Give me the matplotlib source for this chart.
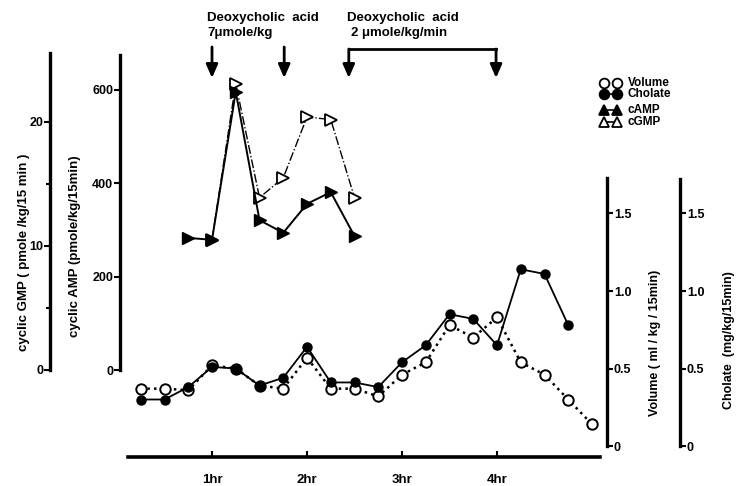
import matplotlib
matplotlib.use("Agg")
import matplotlib.pyplot as plt
from matplotlib.lines import Line2D

plt.rcParams['font.family'] = ['Liberation Sans', 'DejaVu Sans']
plt.rcParams['font.weight'] = 'bold'

# sampling times (hr), 15-min collections
t_flow = [0.25, 0.5, 0.75, 1.0, 1.25, 1.5, 1.75, 2.0, 2.25, 2.5,
          2.75, 3.0, 3.25, 3.5, 3.75, 4.0, 4.25, 4.5, 4.75, 5.0]
volume = [0.37, 0.37, 0.36, 0.52, 0.50, 0.39, 0.37, 0.57, 0.37, 0.37,
          0.32, 0.46, 0.54, 0.78, 0.70, 0.83, 0.54, 0.46, 0.30, 0.14]
cholate = [0.30, 0.30, 0.38, 0.51, 0.50, 0.39, 0.44, 0.64, 0.41, 0.41,
           0.38, 0.54, 0.65, 0.85, 0.82, 0.65, 1.14, 1.11, 0.78]

t_camp = [0.75, 1.0, 1.25, 1.5, 1.75, 2.0, 2.25, 2.5]
camp = [283, 279, 596, 321, 294, 356, 381, 287]

t_cgmp = [1.0, 1.25, 1.5, 1.75, 2.0, 2.25, 2.5]
cgmp = [10.5, 23.1, 13.9, 15.5, 20.4, 20.2, 13.9]

hr_ticks = [1, 2, 3, 4]
hr_labels = ['1hr', '2hr', '3hr', '4hr']

W, H = 740, 486
fig = plt.figure(figsize=(W / 100, H / 100), dpi=100)

# plotting box in pixels
L, R, T, B = 128, 600, 40, 457
rect = [L / W, 1 - B / H, (R - L) / W, (B - T) / H]
xlim = ((L - 117) / 95, (R - 117) / 95)

def frac(px):
    return (px - L) / (R - L)

def fy(py):
    return (B - py) / (B - T)

ax = fig.add_axes(rect)        # volume / cholate
ax_g = fig.add_axes(rect, sharex=ax)   # cyclic GMP
ax_a = fig.add_axes(rect, sharex=ax)   # cyclic AMP (drawn over cGMP)
ax_g.set_zorder(1)
ax_a.set_zorder(2)
for a in (ax, ax_a, ax_g):
    a.patch.set_visible(False)
    for s in a.spines.values():
        s.set_visible(False)
    a.tick_params(labelsize=9)

ax.set_xlim(*xlim)
ax.set_ylim((446 - B) / 155, (446 - T) / 155)
ax_a.set_ylim((370 - B) / 0.4667, (370 - T) / 0.4667)
ax_g.set_ylim((370 - B) / 12.4, (370 - T) / 12.4)

# bottom time axis
ax.spines['bottom'].set_visible(True)
ax.spines['bottom'].set_linewidth(2.6)
ax.set_xticks(hr_ticks)
ax.set_xticklabels(hr_labels, fontsize=9.5)
ax.tick_params(axis='x', direction='in', length=4, width=1.5, pad=12)

# volume axis (right)
ax.spines['right'].set_visible(True)
ax.spines['right'].set_position(('axes', frac(607)))
ax.spines['right'].set_bounds(0, 1.73)
ax.spines['right'].set_linewidth(2.4)
ax.yaxis.tick_right()
ax.set_yticks([0, 0.5, 1.0, 1.5])
ax.set_yticklabels(['0', '0.5', '1.0', '1.5'])
ax.tick_params(axis='y', direction='out', length=4, width=1.5, pad=1)

# cholate axis: separate frame with same scale
ax_c = fig.add_axes(rect, sharey=ax)
ax_c.patch.set_visible(False)
for s in ax_c.spines.values():
    s.set_visible(False)
ax_c.set_xticks([])
ax_c.spines['right'].set_visible(True)
ax_c.spines['right'].set_position(('axes', frac(680)))
ax_c.spines['right'].set_bounds(0, 1.72)
ax_c.spines['right'].set_linewidth(2.4)
ax_c.yaxis.tick_right()
ax_c.tick_params(axis='y', direction='out', length=4, width=1.5, pad=1, labelsize=9)

# cAMP axis (left)
ax_a.spines['left'].set_visible(True)
ax_a.spines['left'].set_position(('axes', frac(120)))
ax_a.spines['left'].set_bounds(0, 675)
ax_a.spines['left'].set_linewidth(2.4)
ax_a.yaxis.tick_left()
ax_a.set_yticks([0, 200, 400, 600])
ax_a.tick_params(axis='y', direction='out', length=4, width=1.5, pad=1)
ax_a.tick_params(axis='x', bottom=False, labelbottom=False)

# cGMP axis (far left)
ax_g.spines['left'].set_visible(True)
ax_g.spines['left'].set_position(('axes', frac(50)))
ax_g.spines['left'].set_bounds(0, 25.6)
ax_g.spines['left'].set_linewidth(2.4)
ax_g.yaxis.tick_left()
ax_g.set_yticks([0, 10, 20])
ax_g.set_yticks([5, 15], minor=True)
ax_g.tick_params(axis='y', which='major', direction='out', length=4, width=1.5, pad=1)
ax_g.tick_params(axis='y', which='minor', direction='out', length=3, width=1.5)
ax_g.tick_params(axis='x', bottom=False, labelbottom=False)

# data
ax.plot(t_flow, volume, ':', color='black', lw=1.8, marker='o', ms=7.5,
        mfc='white', mec='black', mew=1.4, zorder=3)
ax.plot(t_flow[:len(cholate)], cholate, '-', color='black', lw=1.3, marker='o',
        ms=6.5, mfc='black', mec='black', zorder=4)
ax_g.plot(t_cgmp, cgmp, '-.', color='black', lw=1.0, marker='>', ms=8,
          mfc='white', mec='black', mew=1.3, zorder=3)
ax_a.plot(t_camp, camp, '-', color='black', lw=1.4, marker='>', ms=8.5,
          mfc='black', mec='black', zorder=4)

# axis titles
fig.text(24 / W, 1 - 252 / H, 'cyclic GMP ( pmole /kg/15 min )', rotation=90,
         ha='center', va='center', fontsize=9.5)
fig.text(75 / W, 1 - 246 / H, 'cyclic AMP (pmole/kg/15min)', rotation=90,
         ha='center', va='center', fontsize=9.5)
fig.text(655 / W, 1 - 343 / H, 'Volume ( ml / kg / 15min)', rotation=90,
         ha='center', va='center', fontsize=9)
fig.text(729 / W, 1 - 340 / H, 'Cholate  (mg/kg/15min)', rotation=90,
         ha='center', va='center', fontsize=9)

# deoxycholic acid doses
tr = ax.get_xaxis_transform()
fig.text(207 / W, 1 - 18 / H, 'Deoxycholic  acid', ha='left', va='center', fontsize=9.5)
fig.text(207 / W, 1 - 33 / H, '7\u03bcmole/kg', ha='left', va='center', fontsize=9.5)
fig.text(347 / W, 1 - 18 / H, 'Deoxycholic  acid', ha='left', va='center', fontsize=9.5)
fig.text(351 / W, 1 - 33 / H, '2 \u03bcmole/kg/min', ha='left', va='center', fontsize=9.5)

arrow_kw = dict(arrowstyle='-|>,head_length=0.8,head_width=0.35', color='black',
                lw=2.0, shrinkA=0, shrinkB=0)
for xa in (1.0, 1.76):
    ax.annotate('', xy=(xa, fy(78)), xytext=(xa, fy(47)), xycoords=tr,
                textcoords=tr, arrowprops=arrow_kw, annotation_clip=False)
for xa in (2.44, 3.99):
    ax.annotate('', xy=(xa, fy(78)), xytext=(xa, fy(49)), xycoords=tr,
                textcoords=tr, arrowprops=arrow_kw, annotation_clip=False)
ax.plot([2.44, 3.99], [fy(49), fy(49)], color='black', lw=2.0,
        transform=tr, clip_on=False)

# legend
rows = [('Volume', ':', 'o', 'white', 83),
        ('Cholate', '-', 'o', 'black', 94),
        ('cAMP', '-', '^', 'black', 110),
        ('cGMP', '-.', '^', 'white', 122)]
for name, ls, mk, fc, py in rows:
    fig.add_artist(Line2D([604 / W, 617 / W], [1 - py / H, 1 - py / H],
                          transform=fig.transFigure, ls=ls, color='black',
                          lw=1.2, marker=mk, ms=7, mfc=fc, mec='black', mew=1.3))
    fig.text(628 / W, 1 - py / H, name, ha='left', va='center', fontsize=8.5)

fig.savefig('out.png', dpi=100)
